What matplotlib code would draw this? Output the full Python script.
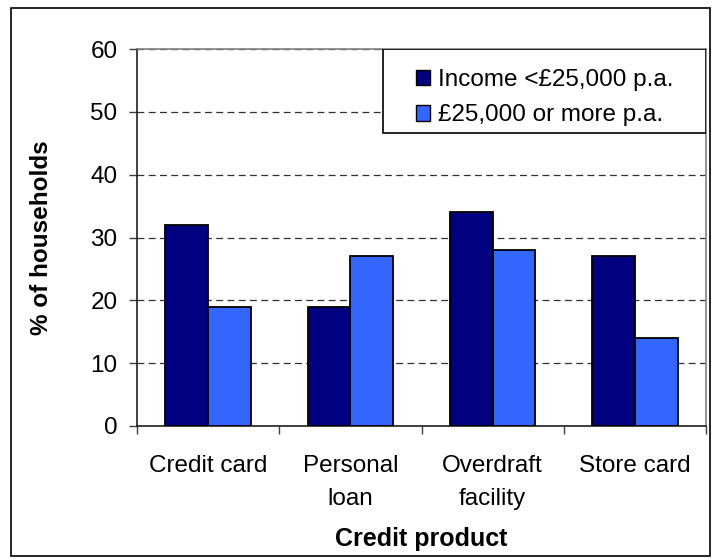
import numpy as np
import matplotlib
matplotlib.use("Agg")
import matplotlib.pyplot as plt
from matplotlib.patches import Rectangle, Patch

plt.rcParams["font.family"] = ["Liberation Sans", "DejaVu Sans"]

# survey figures: share of households holding each credit product
categories = ["Credit card", "Personal\nloan", "Overdraft\nfacility", "Store card"]
low_income = [32, 19, 34, 27]
high_income = [19, 27, 28, 14]
series_labels = ["Income <\u00a325,000 p.a.", "\u00a325,000 or more p.a."]
y_ticks = [0, 10, 20, 30, 40, 50, 60]

DARK = "#000080"
LIGHT = "#3366FF"
FS = 17.5

fig = plt.figure(figsize=(7.13, 5.59), dpi=100)
ax = fig.add_axes([137 / 713, 1 - 426 / 559, 569 / 713, 377 / 559])

# outer chart frame
fig.patches.append(Rectangle((11 / 713, 3 / 559), 699 / 713, 548 / 559,
                             transform=fig.transFigure, fill=False,
                             edgecolor="black", linewidth=1.2))

x = np.arange(len(categories))
w = 0.30
ax.bar(x - w / 2, low_income, w, color=DARK, edgecolor="black", linewidth=1.3, zorder=3)
ax.bar(x + w / 2, high_income, w, color=LIGHT, edgecolor="black", linewidth=1.3, zorder=3)

ax.set_xlim(-0.5, len(categories) - 0.5)
ax.set_ylim(0, 60)
ax.set_yticks(y_ticks)
ax.tick_params(axis="y", labelsize=FS, length=6, width=1, pad=8, color="#404040")

# category labels centred, tick marks between categories
ax.set_xticks(x)
ax.set_xticklabels(categories, fontsize=FS, linespacing=1.65)
ax.tick_params(axis="x", which="major", length=0, pad=21)
ax.set_xticks(np.arange(-0.5, len(categories)), minor=True)
ax.tick_params(axis="x", which="minor", length=6, width=1, color="#404040")

ax.yaxis.grid(True, linestyle=(0, (5.5, 3.5)), color="#303030", linewidth=0.9, zorder=0)

for side in ("left", "bottom"):
    ax.spines[side].set_color("#202020")
    ax.spines[side].set_linewidth(1.2)
for side in ("top", "right"):
    ax.spines[side].set_color("#808080")
    ax.spines[side].set_linewidth(1.2)

ax.set_ylabel("% of households", fontsize=FS, fontweight="bold")
ax.yaxis.set_label_coords(-0.148, 0.5)
ax.set_xlabel("Credit product", fontsize=18, fontweight="bold")
ax.xaxis.set_label_coords(0.5, -0.268)

# legend box with its own frame, entries placed inside
lx0, ly0 = (383 - 137) / 569, (426 - 133) / 377
ax.add_patch(Rectangle((lx0, ly0), 1 - lx0, 1 - ly0, transform=ax.transAxes,
                       facecolor="white", edgecolor="black", linewidth=1.2, zorder=5))
handles = [Patch(facecolor=DARK, edgecolor="black", linewidth=1),
           Patch(facecolor=LIGHT, edgecolor="black", linewidth=1)]
leg = ax.legend(handles, series_labels, loc="center",
                bbox_to_anchor=((1 + lx0) / 2, (1 + ly0) / 2 - 0.018),
                frameon=False, fontsize=FS, handlelength=0.6, handleheight=0.6,
                handletextpad=0.3, labelspacing=0.55, borderpad=0)
leg.set_zorder(6)

fig.savefig("out.png", dpi=100)
